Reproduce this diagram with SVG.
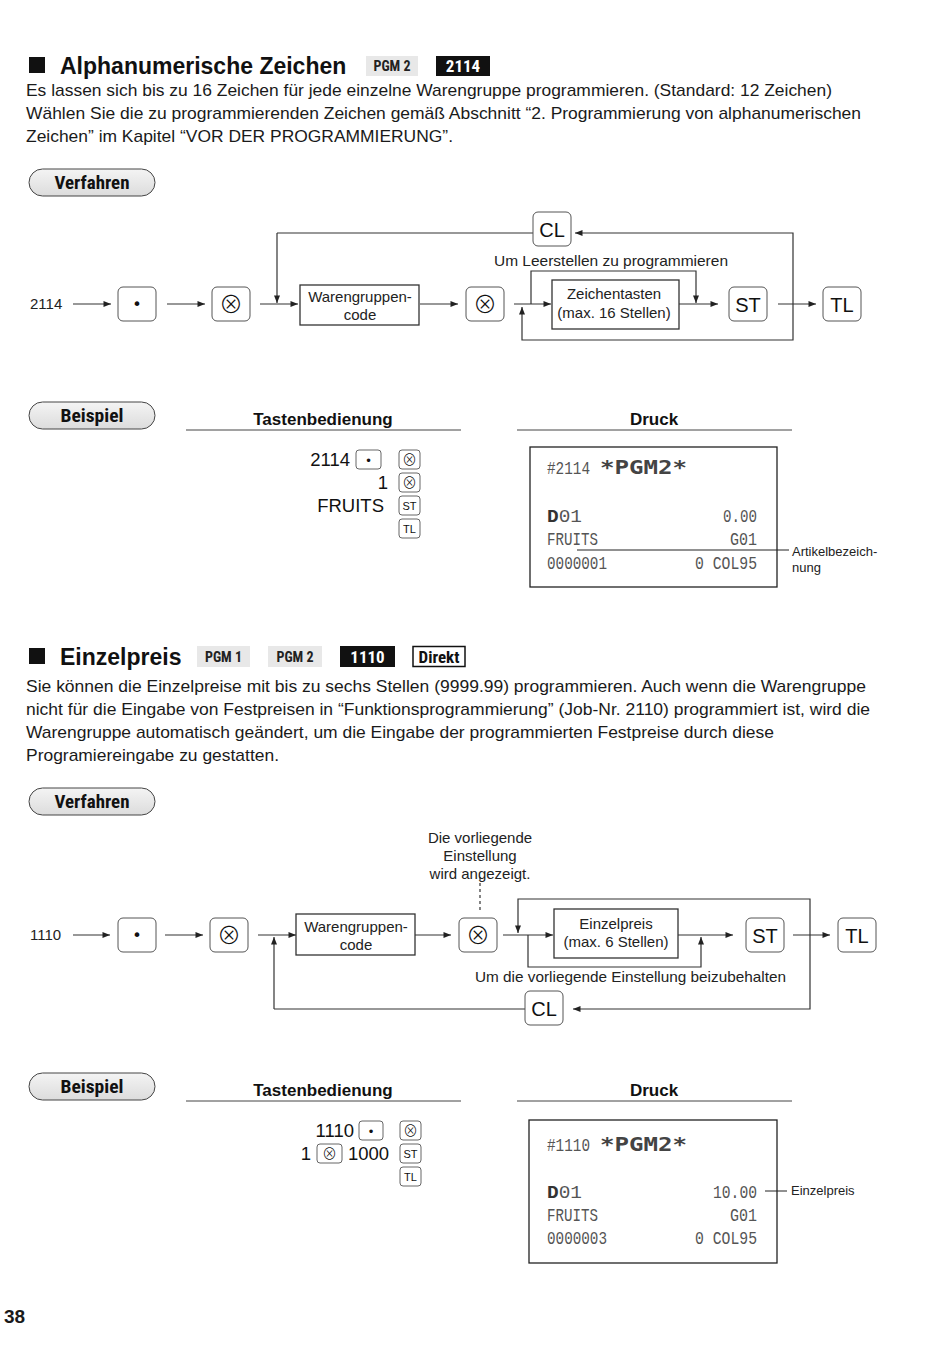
<svg xmlns="http://www.w3.org/2000/svg" width="950" height="1368" viewBox="0 0 950 1368">
<defs>
<marker id="ah" viewBox="0 0 10 8" refX="10" refY="4" markerWidth="9" markerHeight="6" markerUnits="userSpaceOnUse" orient="auto">
<path d="M0,0 L10,4 L0,8 z" fill="#222"/>
</marker>
<linearGradient id="pillg" x1="0" y1="0" x2="0" y2="1">
<stop offset="0" stop-color="#f4f4f4"/>
<stop offset="1" stop-color="#dcdcdc"/>
</linearGradient>
</defs>
<style>
.t{font-family:"Liberation Sans",Arial,sans-serif;fill:#1a1a1a}
.title{font-family:"Liberation Sans",Arial,sans-serif;font-weight:bold;font-size:23px;fill:#111}
.body{font-family:"Liberation Sans",Arial,sans-serif;font-size:17px;fill:#1a1a1a}
.nar{font-family:"Liberation Sans Narrow","Roboto Condensed","DejaVu Sans Condensed","Liberation Sans",sans-serif;font-stretch:condensed;font-weight:bold}
.pill{fill:url(#pillg);stroke:#444;stroke-width:1}
.pilltxt{font-size:18px;fill:#111;text-anchor:middle}
.lbl{font-family:"Liberation Sans",Arial,sans-serif;font-size:15px;fill:#222}
.mid{text-anchor:middle}
.end{text-anchor:end}
.key{fill:#fff;stroke:#555;stroke-width:1}
.box{fill:#fff;stroke:#333;stroke-width:1.3}
.kt{font-family:"Liberation Sans",Arial,sans-serif;font-size:20px;fill:#111;text-anchor:middle}
.sym{font-family:"DejaVu Sans",sans-serif;fill:#111;text-anchor:middle}
.ox{font-family:"Noto Sans CJK JP","DejaVu Sans",sans-serif;font-weight:300;fill:#111;text-anchor:middle}
.con{fill:none;stroke:#333;stroke-width:1.2}
.arr{fill:none;stroke:#333;stroke-width:1.2;marker-end:url(#ah)}
.hdr{font-family:"Liberation Sans",Arial,sans-serif;font-weight:bold;font-size:17px;fill:#111;text-anchor:middle}
.rule{stroke:#444;stroke-width:1}
.op{font-family:"Liberation Sans",Arial,sans-serif;font-size:18.5px;fill:#111}
.sk{fill:#fff;stroke:#666;stroke-width:1}
.skt{font-family:"Liberation Sans",Arial,sans-serif;font-size:11px;fill:#111;text-anchor:middle}
.rcpt{fill:#fff;stroke:#222;stroke-width:1.3}
.pr{font-family:"Liberation Mono","DejaVu Sans Mono",monospace;font-size:19px;fill:#555}
.prb{font-family:"DejaVu Sans Mono","Liberation Mono",monospace;font-size:19px;font-weight:bold;fill:#444}
.note{font-family:"Liberation Sans",Arial,sans-serif;font-size:13px;fill:#222}
</style>
<rect width="950" height="1368" fill="#fff"/>

<!-- Section 1 header -->
<g id="header1">
<rect x="29" y="57" width="16" height="16" fill="#111"/>
<text class="title" x="60" y="74">Alphanumerische Zeichen</text>
<rect x="366" y="56" width="52" height="20" fill="#e8e8e8"/>
<text class="nar" x="392" y="71" font-size="14" text-anchor="middle" fill="#222">PGM 2</text>
<rect x="436" y="56" width="54" height="20" fill="#111"/>
<text class="nar" x="463" y="72" font-size="17" text-anchor="middle" fill="#fff">2114</text>
</g>
<g id="body1">
<text class="body" x="26" y="96" textLength="806" lengthAdjust="spacingAndGlyphs">Es lassen sich bis zu 16 Zeichen für jede einzelne Warengruppe programmieren. (Standard: 12 Zeichen)</text>
<text class="body" x="26" y="119" textLength="835" lengthAdjust="spacingAndGlyphs">Wählen Sie die zu programmierenden Zeichen gemäß Abschnitt “2. Programmierung von alphanumerischen</text>
<text class="body" x="26" y="142" textLength="427" lengthAdjust="spacingAndGlyphs">Zeichen” im Kapitel “VOR DER PROGRAMMIERUNG”.</text>
</g>
<g id="verfahren1">
<rect class="pill" x="29" y="169" width="126" height="27" rx="13.5"/>
<text class="nar pilltxt" x="92" y="189" textLength="75" lengthAdjust="spacingAndGlyphs">Verfahren</text>
</g>

<!-- Flowchart 1 connectors -->
<g id="connectors1">
<line class="arr" x1="73" y1="304" x2="111" y2="304"/>
<line class="arr" x1="167" y1="304" x2="205" y2="304"/>
<line class="arr" x1="260" y1="304" x2="298" y2="304"/>
<path class="con" d="M533,233 H277"/>
<path class="arr" d="M277,233 V303"/>
<line class="arr" x1="420" y1="304" x2="458" y2="304"/>
<line class="arr" x1="514" y1="304" x2="551" y2="304"/>
<path class="arr" d="M531,304 V271 H696 V303"/>
<line class="arr" x1="679" y1="304" x2="718" y2="304"/>
<line class="arr" x1="778" y1="304" x2="816" y2="304"/>
<path class="arr" d="M793,304 V233 H575"/>
<path class="arr" d="M793,304 V340 H522 V307"/>
</g>
<g id="n-2114"><text class="lbl" x="30" y="309">2114</text></g>
<g id="k-dot1"><rect class="key" x="118" y="287" width="38" height="34" rx="5"/><text class="sym" x="137" y="310" font-size="16">•</text></g>
<g id="k-x1"><rect class="key" x="212" y="287" width="38" height="34" rx="5"/><text class="ox" x="231" y="312.5" font-size="24">⊗</text></g>
<g id="b-wg1"><rect class="box" x="300" y="285" width="119" height="40"/><text class="lbl mid" x="360" y="302">Warengruppen-</text><text class="lbl mid" x="360" y="320">code</text></g>
<g id="k-x2"><rect class="key" x="466" y="287" width="38" height="34" rx="5"/><text class="ox" x="485" y="312.5" font-size="24">⊗</text></g>
<g id="k-cl1"><rect class="key" x="533" y="212" width="38" height="34" rx="5"/><text class="kt" x="552" y="237">CL</text></g>
<g id="lbl-leer"><text class="lbl" x="494" y="266" textLength="234" lengthAdjust="spacingAndGlyphs">Um Leerstellen zu programmieren</text></g>
<g id="b-zt"><rect class="box" x="552" y="280" width="127" height="49"/><text class="lbl mid" x="614" y="299">Zeichentasten</text><text class="lbl mid" x="614" y="318">(max. 16 Stellen)</text></g>
<g id="k-st1"><rect class="key" x="729" y="287" width="38" height="34" rx="5"/><text class="kt" x="748" y="312">ST</text></g>
<g id="k-tl1"><rect class="key" x="823" y="287" width="38" height="34" rx="5"/><text class="kt" x="842" y="312">TL</text></g>

<!-- Beispiel 1 -->
<g id="beispiel1">
<rect class="pill" x="29" y="402" width="126" height="27" rx="13.5"/>
<text class="nar pilltxt" x="92" y="422" textLength="63" lengthAdjust="spacingAndGlyphs">Beispiel</text>
</g>
<g id="tasten1">
<text class="hdr" x="323" y="425">Tastenbedienung</text>
<line class="rule" x1="186" y1="430" x2="461" y2="430"/>
<text class="op end" x="350" y="466">2114</text>
<rect class="sk" x="356" y="450" width="25" height="19" rx="3"/><text class="sym" x="368.5" y="465" font-size="12">•</text>
<rect class="sk" x="399" y="450" width="21" height="19" rx="3"/><text class="ox" x="409.5" y="465" font-size="15">⊗</text>
<text class="op end" x="388" y="489">1</text>
<rect class="sk" x="399" y="473" width="21" height="19" rx="3"/><text class="ox" x="409.5" y="488" font-size="15">⊗</text>
<text class="op end" x="384" y="512">FRUITS</text>
<rect class="sk" x="399" y="496" width="21" height="19" rx="3"/><text class="skt" x="409.5" y="510">ST</text>
<rect class="sk" x="399" y="519" width="21" height="19" rx="3"/><text class="skt" x="409.5" y="533">TL</text>
</g>
<g id="druck1">
<text class="hdr" x="654" y="425">Druck</text>
<line class="rule" x1="517" y1="430" x2="792" y2="430"/>
<rect class="rcpt" x="530" y="447" width="247" height="140"/>
<text class="pr" x="547" y="474" textLength="43" lengthAdjust="spacingAndGlyphs">#2114</text>
<text class="prb" x="600" y="474" textLength="87" lengthAdjust="spacingAndGlyphs">*PGM2*</text>
<text class="pr" x="547" y="522" textLength="35" lengthAdjust="spacingAndGlyphs"><tspan font-weight="bold" fill="#333">D</tspan>01</text>
<text class="pr end" x="757" y="522" textLength="34" lengthAdjust="spacingAndGlyphs">0.00</text>
<text class="pr" x="547" y="545" textLength="51" lengthAdjust="spacingAndGlyphs">FRUITS</text>
<text class="pr end" x="757" y="545" textLength="27" lengthAdjust="spacingAndGlyphs">G01</text>
<text class="pr" x="547" y="569" textLength="60" lengthAdjust="spacingAndGlyphs">0000001</text>
<text class="pr end" x="757" y="569" textLength="62" lengthAdjust="spacingAndGlyphs">0 COL95</text>
<line x1="577" y1="550" x2="789" y2="550" stroke="#222" stroke-width="1"/>
<text class="note" x="792" y="556">Artikelbezeich-</text>
<text class="note" x="792" y="572">nung</text>
</g>

<!-- Section 2 header -->
<g id="header2">
<rect x="29" y="648" width="16" height="16" fill="#111"/>
<text class="title" x="60" y="665">Einzelpreis</text>
<rect x="197" y="646" width="53" height="21" fill="#e8e8e8"/>
<text class="nar" x="223.5" y="662" font-size="14" text-anchor="middle" fill="#222">PGM 1</text>
<rect x="268" y="646" width="54" height="21" fill="#e8e8e8"/>
<text class="nar" x="295" y="662" font-size="14" text-anchor="middle" fill="#222">PGM 2</text>
<rect x="340" y="646" width="55" height="21" fill="#111"/>
<text class="nar" x="367.5" y="663" font-size="17" text-anchor="middle" fill="#fff">1110</text>
<rect x="413" y="646.5" width="52" height="20" fill="#fff" stroke="#111" stroke-width="1.5"/>
<text class="nar" x="439" y="663" font-size="17" text-anchor="middle" fill="#111">Direkt</text>
</g>
<g id="body2">
<text class="body" x="26" y="692" textLength="840" lengthAdjust="spacingAndGlyphs">Sie können die Einzelpreise mit bis zu sechs Stellen (9999.99) programmieren. Auch wenn die Warengruppe</text>
<text class="body" x="26" y="715" textLength="844" lengthAdjust="spacingAndGlyphs">nicht für die Eingabe von Festpreisen in “Funktionsprogrammierung” (Job-Nr. 2110) programmiert ist, wird die</text>
<text class="body" x="26" y="738" textLength="748" lengthAdjust="spacingAndGlyphs">Warengruppe automatisch geändert, um die Eingabe der programmierten Festpreise durch diese</text>
<text class="body" x="26" y="761" textLength="253" lengthAdjust="spacingAndGlyphs">Programiereingabe zu gestatten.</text>
</g>
<g id="verfahren2">
<rect class="pill" x="29" y="788" width="126" height="27" rx="13.5"/>
<text class="nar pilltxt" x="92" y="808" textLength="75" lengthAdjust="spacingAndGlyphs">Verfahren</text>
</g>

<!-- Flowchart 2 connectors -->
<g id="connectors2">
<line class="arr" x1="73" y1="935" x2="110" y2="935"/>
<line class="arr" x1="165" y1="935" x2="203" y2="935"/>
<line class="arr" x1="258" y1="935" x2="296" y2="935"/>
<path class="con" d="M525,1009 H274"/>
<path class="arr" d="M274,1009 V937"/>
<line class="arr" x1="415" y1="935" x2="451" y2="935"/>
<line class="con" x1="480" y1="877" x2="480" y2="912" stroke="#888" stroke-dasharray="3,3" stroke-width="1"/>
<line class="arr" x1="503" y1="935" x2="553" y2="935"/>
<path class="arr" d="M810,935 V899 H518 V933"/>
<path class="arr" d="M810,935 V1009 H573"/>
<path class="arr" d="M528,935 V967 H701 V937"/>
<line class="arr" x1="678" y1="935" x2="733" y2="935"/>
<line class="arr" x1="793" y1="935" x2="830" y2="935"/>
</g>
<g id="n-1110"><text class="lbl" x="30" y="940">1110</text></g>
<g id="k-dot2"><rect class="key" x="118" y="918" width="38" height="34" rx="5"/><text class="sym" x="137" y="941" font-size="16">•</text></g>
<g id="k-x3"><rect class="key" x="210" y="918" width="38" height="34" rx="5"/><text class="ox" x="229" y="943.5" font-size="24">⊗</text></g>
<g id="b-wg2"><rect class="box" x="296" y="914" width="119" height="41"/><text class="lbl mid" x="356" y="932">Warengruppen-</text><text class="lbl mid" x="356" y="950">code</text></g>
<g id="lbl-vorl"><text class="lbl mid" x="480" y="843">Die vorliegende</text><text class="lbl mid" x="480" y="861">Einstellung</text><text class="lbl mid" x="480" y="879">wird angezeigt.</text></g>
<g id="k-x4"><rect class="key" x="459" y="918" width="38" height="34" rx="5"/><text class="ox" x="478" y="943.5" font-size="24">⊗</text></g>
<g id="b-ep"><rect class="box" x="554" y="909" width="124" height="49"/><text class="lbl mid" x="616" y="929">Einzelpreis</text><text class="lbl mid" x="616" y="947">(max. 6 Stellen)</text></g>
<g id="lbl-beib"><text class="lbl" x="475" y="982" textLength="311" lengthAdjust="spacingAndGlyphs">Um die vorliegende Einstellung beizubehalten</text></g>
<g id="k-cl2"><rect class="key" x="525" y="991" width="38" height="34" rx="5"/><text class="kt" x="544" y="1016">CL</text></g>
<g id="k-st2"><rect class="key" x="746" y="918" width="38" height="34" rx="5"/><text class="kt" x="765" y="943">ST</text></g>
<g id="k-tl2"><rect class="key" x="838" y="918" width="38" height="34" rx="5"/><text class="kt" x="857" y="943">TL</text></g>

<!-- Beispiel 2 -->
<g id="beispiel2">
<rect class="pill" x="29" y="1073" width="126" height="27" rx="13.5"/>
<text class="nar pilltxt" x="92" y="1093" textLength="63" lengthAdjust="spacingAndGlyphs">Beispiel</text>
</g>
<g id="tasten2">
<text class="hdr" x="323" y="1096">Tastenbedienung</text>
<line class="rule" x1="186" y1="1101" x2="461" y2="1101"/>
<text class="op end" x="354" y="1137">1110</text>
<rect class="sk" x="359" y="1121" width="24" height="19" rx="3"/><text class="sym" x="371" y="1136" font-size="12">•</text>
<rect class="sk" x="400" y="1121" width="21" height="19" rx="3"/><text class="ox" x="410.5" y="1136" font-size="15">⊗</text>
<text class="op end" x="311" y="1160">1</text>
<rect class="sk" x="317" y="1144" width="25" height="19" rx="3"/><text class="ox" x="329.5" y="1159" font-size="15">⊗</text>
<text class="op" x="348" y="1160">1000</text>
<rect class="sk" x="400" y="1144" width="21" height="19" rx="3"/><text class="skt" x="410.5" y="1158">ST</text>
<rect class="sk" x="400" y="1167" width="21" height="19" rx="3"/><text class="skt" x="410.5" y="1181">TL</text>
</g>
<g id="druck2">
<text class="hdr" x="654" y="1096">Druck</text>
<line class="rule" x1="517" y1="1101" x2="792" y2="1101"/>
<rect class="rcpt" x="529" y="1120" width="248" height="143"/>
<text class="pr" x="547" y="1151" textLength="43" lengthAdjust="spacingAndGlyphs">#1110</text>
<text class="prb" x="600" y="1151" textLength="87" lengthAdjust="spacingAndGlyphs">*PGM2*</text>
<text class="pr" x="547" y="1198" textLength="35" lengthAdjust="spacingAndGlyphs"><tspan font-weight="bold" fill="#333">D</tspan>01</text>
<text class="pr end" x="757" y="1198" textLength="44" lengthAdjust="spacingAndGlyphs">10.00</text>
<text class="pr" x="547" y="1221" textLength="51" lengthAdjust="spacingAndGlyphs">FRUITS</text>
<text class="pr end" x="757" y="1221" textLength="27" lengthAdjust="spacingAndGlyphs">G01</text>
<text class="pr" x="547" y="1244" textLength="60" lengthAdjust="spacingAndGlyphs">0000003</text>
<text class="pr end" x="757" y="1244" textLength="62" lengthAdjust="spacingAndGlyphs">0 COL95</text>
<line x1="765" y1="1191" x2="787" y2="1191" stroke="#222" stroke-width="1"/>
<text class="note" x="791" y="1195">Einzelpreis</text>
</g>

<g id="page"><text class="t" x="4" y="1323" font-size="19" font-weight="bold">38</text></g>
</svg>
